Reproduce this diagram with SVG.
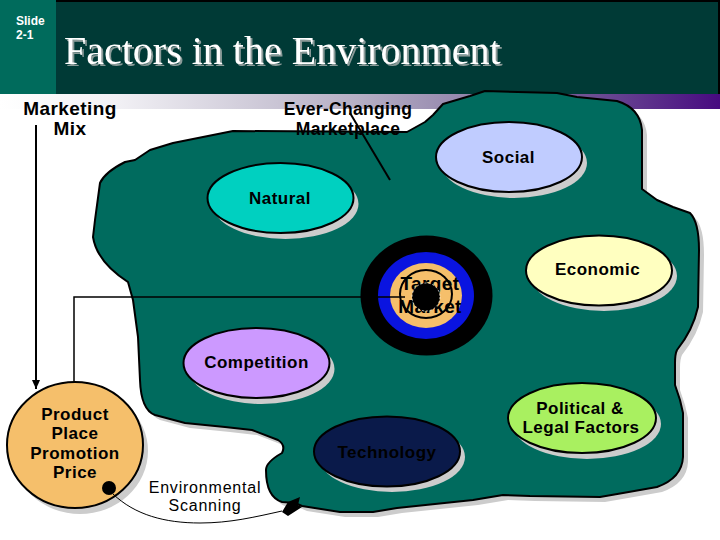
<svg xmlns="http://www.w3.org/2000/svg" width="720" height="540" viewBox="0 0 720 540">
<style>
text{font-family:"Liberation Sans",Arial,sans-serif;font-weight:700;font-size:17px;letter-spacing:.5px;text-anchor:middle;fill:#000}
.big{font-size:19px;letter-spacing:.4px}
.ever{font-size:17.500px;letter-spacing:.3px}
.reg{font-weight:400;font-size:16px;letter-spacing:.8px}
.oval{stroke:#000;stroke-width:2}
.sh{fill:#ccc}
.ln{fill:none;stroke:#000}
</style>
<defs>
<linearGradient id="band" x1="0" x2="1" y1="0" y2="0"><stop offset="0" stop-color="#fff"/><stop offset=".16" stop-color="#f2f1f5"/><stop offset=".5" stop-color="#b5aec4"/><stop offset=".75" stop-color="#7d6a9c"/><stop offset="1" stop-color="#470a80"/></linearGradient>
<filter id="ts" x="-5%" y="-20%" width="110%" height="140%"><feDropShadow dx="2" dy="2" stdDeviation="0" flood-color="#8a9a98"/></filter>
<path id="blob" stroke-linejoin="round" d="M233 131L407 132L425 122L433 115L443 104L470 96L485 91L557 93L577 97L617 101Q640 108 642 130L642 189L657 200L673 207L690 213Q699 222 699 250L698 307Q693 330 677 350Q675 354 675 363L675 385L680 400L683 413L683 457Q682 478 657 487L623 493L600 497L530 496L503 495L473 500L397 508L373 512L340 512L302 506L295 503L282 502Q266 497 266 470Q266 462 282 453Q286 445 278 440L252 430L225 427L185 423L155 415Q141 410 140 380L138 337L133 300L128 282Q97 262 93 237L95 220L100 183Q105 172 125 162L135 160L150 150L173 143L208 136Z"/>
<marker id="ah" markerUnits="userSpaceOnUse" markerWidth="10" markerHeight="10" refX="9" refY="4" orient="auto"><path d="M0 0L9 4L0 8Z" fill="#000"/></marker>
</defs>
<g id="header">
<rect x="0" y="94" width="720" height="15" fill="url(#band)"/>
<rect x="0" y="0" width="720" height="94" fill="#000"/>
<rect x="56" y="2" width="662" height="92" fill="#003a36"/>
<rect x="0" y="0" width="56" height="94" fill="#006b5c"/>
<text x="16" y="25" style="font-size:12px;letter-spacing:0;text-anchor:start;fill:#fff">Slide</text>
<text x="16" y="39" style="font-size:12px;letter-spacing:0;text-anchor:start;fill:#fff">2-1</text>
<text x="64" y="64" filter="url(#ts)" style="font-family:'Liberation Serif',serif;font-weight:400;font-size:40px;letter-spacing:0;text-anchor:start;fill:#fff">Factors in the Environment</text>
</g>
<g id="market-area">
<use href="#blob" transform="translate(5 5)" class="sh"/>
<use href="#blob" fill="#006b5e" stroke="#000" stroke-width="2"/>
</g>
<g id="marketing-mix"><text class="big" x="70" y="115">Marketing</text><text class="big" x="70" y="135">Mix</text></g>
<g id="ever-changing"><text class="ever" x="348" y="115">Ever-Changing</text><text class="ever" x="348" y="135">Marketplace</text></g>
<g id="social"><ellipse class="sh" cx="514" cy="163" rx="73" ry="35"/><ellipse class="oval" cx="509" cy="157" rx="73" ry="35" fill="#c0ccff"/><text x="508.500" y="163">Social</text></g>
<g id="natural"><ellipse class="sh" cx="285.500" cy="204" rx="73" ry="35"/><ellipse class="oval" cx="280.500" cy="198" rx="73" ry="35" fill="#00d0c0"/><text x="280" y="204">Natural</text></g>
<g id="economic"><ellipse class="sh" cx="604" cy="276" rx="73" ry="35"/><ellipse class="oval" cx="599" cy="270.500" rx="73" ry="35" fill="#ffffc0"/><text x="597.500" y="275">Economic</text></g>
<g id="competition"><ellipse class="sh" cx="261.500" cy="369" rx="73" ry="35"/><ellipse class="oval" cx="256.500" cy="363" rx="73" ry="35" fill="#cc99ff"/><text x="256.500" y="368">Competition</text></g>
<g id="technology"><ellipse class="sh" cx="392" cy="457" rx="73" ry="35"/><ellipse class="oval" cx="387" cy="451.500" rx="73" ry="35" fill="#0a1a4a"/><text x="387" y="458">Technology</text></g>
<g id="political"><ellipse class="sh" cx="587" cy="424" rx="74" ry="35"/><ellipse class="oval" cx="582" cy="418" rx="74" ry="35" fill="#a9f060"/><text x="580" y="414">Political &amp;</text><text x="581" y="433">Legal Factors</text></g>
<g id="target-market">
<ellipse cx="426.500" cy="295.500" rx="66" ry="60" fill="#000"/>
<ellipse cx="426" cy="295.500" rx="48" ry="43.500" fill="#0a14e0"/>
<ellipse cx="426" cy="295.500" rx="36" ry="32.500" fill="#f5bf6b"/>
<ellipse cx="426" cy="294" rx="26" ry="24" fill="none" stroke="#000" stroke-width="2"/>
<text class="big" x="430" y="290">Target</text><text class="big" x="430" y="313">Market</text>
<ellipse cx="426" cy="297" rx="14" ry="14" fill="#000" stroke="#fff" stroke-width=".7" stroke-dasharray="2 2"/>
</g>
<g id="product-mix"><ellipse class="sh" cx="80" cy="451" rx="68" ry="63"/><ellipse class="oval" cx="75" cy="445" rx="68" ry="63" fill="#f5bf6b"/><text x="75" y="420">Product</text><text x="75" y="439">Place</text><text x="75" y="459">Promotion</text><text x="75" y="478">Price</text></g>
<g id="scanning"><text class="reg" x="205" y="493">Environmental</text><text class="reg" x="205" y="511">Scanning</text></g>
<g id="connectors">
<path class="ln" stroke-width="2" d="M36 125V389" marker-end="url(#ah)"/>
<path class="ln" stroke-width="1.500" d="M74 382V297H405"/>
<path class="ln" stroke-width="2" d="M350 113L390 180"/>
<path class="ln" stroke-width="1" d="M113 494C135 515 165 523 200 523C230 523 255 517 282 511"/>
<circle cx="109" cy="488" r="7" fill="#000"/>
<path fill="#000" d="M282 512L288 502L300 497L298 505L302 507L288 516Z"/>
</g>
</svg>
